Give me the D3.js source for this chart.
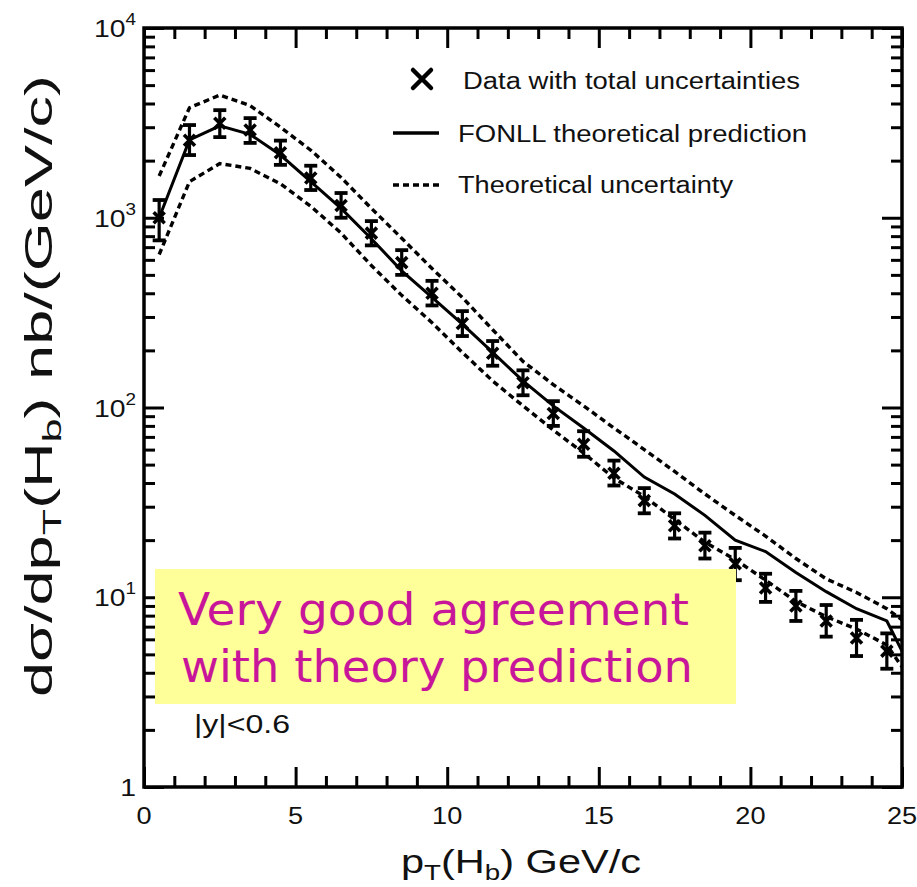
<!DOCTYPE html>
<html>
<head>
<meta charset="utf-8">
<script src="https://cdn.jsdelivr.net/npm/d3@7"></script>
<style>
  body { margin: 0; background: #fff; }
  svg { display: block; font-family: "Liberation Sans", Arial, sans-serif; }
</style>
</head>
<body>
<svg id="chart" width="917" height="887"></svg>
<script>
// Measured b-hadron cross section, |y| < 0.6, bins of 1 GeV/c
const ptBins = [0.5, 1.5, 2.5, 3.5, 4.5, 5.5, 6.5, 7.5, 8.5, 9.5, 10.5, 11.5, 12.5,
                13.5, 14.5, 15.5, 16.5, 17.5, 18.5, 19.5, 20.5, 21.5, 22.5, 23.5, 24.5];
const dataValues = [1000, 2560, 3150, 2900, 2200, 1620, 1160, 830, 580, 400, 277, 193, 135,
                    93, 64, 45, 32.3, 23.8, 18.7, 15.0, 11.2, 9.0, 7.5, 6.1, 5.2];
const dataHigh = [1240, 3080, 3690, 3350, 2550, 1880, 1350, 960, 675, 465, 322, 224, 157,
                  108, 75, 52.5, 37.6, 27.7, 21.9, 18.2, 13.3, 10.8, 9.1, 7.6, 6.45];
const dataLow = [760, 2140, 2660, 2480, 1900, 1400, 1000, 715, 500, 345, 238, 166, 116,
                 80, 55, 38.8, 27.7, 20.4, 16.0, 12.3, 9.45, 7.5, 6.2, 4.9, 4.2];

// FONLL prediction and its uncertainty band
const theoryPt = [0.5, 1.5, 2.5, 3.5, 4.5, 5.5, 6.5, 7.5, 8.5, 9.5, 10.5, 11.5, 12.5,
                  13.5, 14.5, 15.5, 16.5, 17.5, 18.5, 19.5, 20.5, 21.5, 22.5, 23.5, 24.5, 25];
const fonllCentral = [1000, 2570, 3050, 2750, 2140, 1550, 1120, 775, 525, 380, 275, 195, 138,
                      102, 78, 59, 43, 35, 27, 20, 17.4, 13.5, 10.7, 8.7, 7.5, 5.2];
const fonllUpper = [1660, 3800, 4430, 3900, 3000, 2270, 1630, 1120, 780, 540, 380, 257, 175,
                    132, 102, 78, 60, 46, 35, 27, 21, 16, 12.5, 10.6, 8.7, 7.6];
const fonllLower = [640, 1550, 1930, 1820, 1510, 1150, 830, 560, 390, 280, 195, 138, 102,
                    76, 57.5, 42.5, 34, 25.7, 19.5, 15.8, 12.3, 9.5, 7.9, 6.8, 5.6, 4.3];

// Axis ticks and labels
const xMajorTicks = [0, 5, 10, 15, 20, 25];
const xTickLabels = ["0", "5", "10", "15", "20", "25"];
const yDecades = [1, 10, 100, 1000, 10000];
const yTickBase = ["1", "10", "10", "10", "10"];
const yTickExp = ["", "1", "2", "3", "4"];

const legendLabels = ["Data with total uncertainties", "FONLL theoretical prediction", "Theoretical uncertainty"];
const noteLines = ["Very good agreement", "with theory prediction"];

const ink = "#111";
const svg = d3.select("#chart");
const plotLeft = 144, plotRight = 902, plotTop = 28, plotBottom = 787;

const x = d3.scaleLinear().domain([0, 25]).range([plotLeft, plotRight]);
const y = d3.scaleLog().domain([1, 10000]).range([plotBottom, plotTop]);

const xMinor = d3.range(0, 26, 1).filter(v => v % 5 !== 0);
const yMinor = [];
yDecades.slice(0, -1).forEach(d => { for (let k = 2; k <= 9; k++) yMinor.push(d * k); });

function styleAxis(g) {
  g.select(".domain").remove();
  g.selectAll(".tick line").attr("stroke", "#000").attr("stroke-width", 3);
  g.selectAll(".tick text").remove();
}

// Inward ticks on all four sides
const majorLen = 20, minorLen = 11;
svg.append("g").attr("transform", `translate(0,${plotBottom})`)
  .call(d3.axisBottom(x).tickValues(xMajorTicks).tickSize(-majorLen)).call(styleAxis);
svg.append("g").attr("transform", `translate(0,${plotBottom})`)
  .call(d3.axisBottom(x).tickValues(xMinor).tickSize(-minorLen)).call(styleAxis);
svg.append("g").attr("transform", `translate(0,${plotTop})`)
  .call(d3.axisTop(x).tickValues(xMajorTicks).tickSize(-majorLen)).call(styleAxis);
svg.append("g").attr("transform", `translate(0,${plotTop})`)
  .call(d3.axisTop(x).tickValues(xMinor).tickSize(-minorLen)).call(styleAxis);
svg.append("g").attr("transform", `translate(${plotLeft},0)`)
  .call(d3.axisLeft(y).tickValues(yDecades).tickSize(-majorLen)).call(styleAxis);
svg.append("g").attr("transform", `translate(${plotLeft},0)`)
  .call(d3.axisLeft(y).tickValues(yMinor).tickSize(-minorLen)).call(styleAxis);
svg.append("g").attr("transform", `translate(${plotRight},0)`)
  .call(d3.axisRight(y).tickValues(yDecades).tickSize(-majorLen)).call(styleAxis);
svg.append("g").attr("transform", `translate(${plotRight},0)`)
  .call(d3.axisRight(y).tickValues(yMinor).tickSize(-minorLen)).call(styleAxis);

// Frame
svg.append("rect")
  .attr("x", plotLeft).attr("y", plotTop)
  .attr("width", plotRight - plotLeft).attr("height", plotBottom - plotTop)
  .attr("fill", "none").attr("stroke", "#000").attr("stroke-width", 3.5);

// Tick labels (glyphs are drawn slightly wide)
const stretch = 1.18;
svg.append("g").selectAll("text").data(xMajorTicks).join("text")
  .attr("transform", d => `translate(${x(d)},${plotBottom + 37}) scale(${stretch},1)`)
  .attr("text-anchor", "middle")
  .attr("font-size", 23)
  .attr("fill", ink)
  .text((d, i) => xTickLabels[i]);

const yLab = svg.append("g").selectAll("text").data(yDecades).join("text")
  .attr("transform", d => `translate(${plotLeft - 8},${y(d) + 9}) scale(${stretch},1)`)
  .attr("text-anchor", "end")
  .attr("font-size", 24)
  .attr("fill", ink);
yLab.append("tspan").text((d, i) => yTickBase[i]);
yLab.append("tspan").attr("dy", -12).attr("font-size", 16).text((d, i) => yTickExp[i]);

// Axis titles
const xTitle = svg.append("text")
  .attr("transform", `translate(${(plotLeft + plotRight) / 2 - 2},873) scale(1.26,1)`)
  .attr("text-anchor", "middle").attr("font-size", 33).attr("fill", ink);
xTitle.append("tspan").text("p");
xTitle.append("tspan").attr("font-size", 22).attr("dy", 7).text("T");
xTitle.append("tspan").attr("dy", -7).text("(H");
xTitle.append("tspan").attr("font-size", 22).attr("dy", 7).text("b");
xTitle.append("tspan").attr("dy", -7).text(") GeV/c");

const yTitle = svg.append("text")
  .attr("transform", `translate(52,386) rotate(-90)`)
  .attr("text-anchor", "middle").attr("font-size", 38).attr("fill", ink)
  .attr("textLength", 622).attr("lengthAdjust", "spacingAndGlyphs");
yTitle.append("tspan").text("dσ/dp");
yTitle.append("tspan").attr("font-size", 26).attr("dy", 9).text("T");
yTitle.append("tspan").attr("dy", -9).text("(H");
yTitle.append("tspan").attr("font-size", 26).attr("dy", 9).text("b");
yTitle.append("tspan").attr("dy", -9).text(") nb/(GeV/c)");

// Theory curves
const line = d3.line().x(d => x(d[0])).y(d => y(d[1]));
const curves = [
  { values: fonllUpper, dash: "6,4", width: 3.4 },
  { values: fonllLower, dash: "6,4", width: 3.4 },
  { values: fonllCentral, dash: null, width: 3 }
];
svg.append("g").selectAll("path").data(curves).join("path")
  .attr("d", c => line(theoryPt.map((p, i) => [p, c.values[i]])))
  .attr("fill", "none").attr("stroke", "#000")
  .attr("stroke-width", c => c.width)
  .attr("stroke-dasharray", c => c.dash);

// Data points with error bars
const pts = ptBins.map((p, i) => ({ p, v: dataValues[i], hi: dataHigh[i], lo: dataLow[i] }));
const pg = svg.append("g").selectAll("g").data(pts).join("g");
pg.append("line")
  .attr("x1", d => x(d.p)).attr("x2", d => x(d.p))
  .attr("y1", d => y(d.hi)).attr("y2", d => y(d.lo))
  .attr("stroke", "#000").attr("stroke-width", 3.2);
["hi", "lo"].forEach(k => {
  pg.append("line")
    .attr("x1", d => x(d.p) - 6.5).attr("x2", d => x(d.p) + 6.5)
    .attr("y1", d => y(d[k])).attr("y2", d => y(d[k]))
    .attr("stroke", "#000").attr("stroke-width", 3.8);
});
const cross = (cx, cy, s) => `M${cx - s},${cy - s}L${cx + s},${cy + s}M${cx - s},${cy + s}L${cx + s},${cy - s}`;
pg.append("path")
  .attr("d", d => cross(x(d.p), y(d.v), 5.5))
  .attr("stroke", "#000").attr("stroke-width", 3.6).attr("fill", "none");

// Legend
const lg = svg.append("g");
lg.append("path").attr("d", cross(422, 79, 9))
  .attr("stroke", "#000").attr("stroke-width", 4.5).attr("stroke-linecap", "round").attr("fill", "none");
lg.append("line").attr("x1", 393).attr("x2", 439).attr("y1", 133).attr("y2", 133)
  .attr("stroke", "#000").attr("stroke-width", 3.4);
lg.append("line").attr("x1", 393).attr("x2", 439).attr("y1", 185).attr("y2", 185)
  .attr("stroke", "#000").attr("stroke-width", 3.4).attr("stroke-dasharray", "6,4");
const legendPos = [[463, 89, 337], [458, 142, 349], [458, 193, 275]];
lg.selectAll("text").data(legendLabels).join("text")
  .attr("x", (d, i) => legendPos[i][0]).attr("y", (d, i) => legendPos[i][1])
  .attr("font-size", 23).attr("fill", ink)
  .attr("textLength", (d, i) => legendPos[i][2]).attr("lengthAdjust", "spacingAndGlyphs")
  .text(d => d);

// Rapidity range
svg.append("text")
  .attr("x", 194).attr("y", 733).attr("font-size", 25).attr("fill", ink)
  .attr("textLength", 96).attr("lengthAdjust", "spacingAndGlyphs")
  .text("|y|<0.6");

// Highlighted note
svg.append("rect")
  .attr("x", 155).attr("y", 569).attr("width", 581).attr("height", 135)
  .attr("fill", "#ffff99");
svg.append("g").selectAll("text").data(noteLines).join("text")
  .attr("x", (d, i) => [178, 181][i]).attr("y", (d, i) => [625, 682][i])
  .style("font-family", "'DejaVu Sans', Verdana, sans-serif")
  .attr("font-size", 44)
  .attr("fill", "#c8169b")
  .attr("textLength", (d, i) => [511, 512][i]).attr("lengthAdjust", "spacingAndGlyphs")
  .text(d => d);
</script>
</body>
</html>
